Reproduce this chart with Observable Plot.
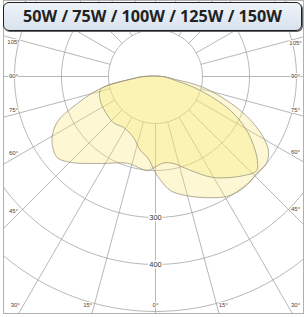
<!DOCTYPE html>
<html><head><meta charset="utf-8">
<script src="https://cdn.jsdelivr.net/npm/d3@7"></script>
<script src="https://cdn.jsdelivr.net/npm/@observablehq/plot@0.6"></script>
<style>
html,body{margin:0;padding:0;background:#fff;}
#wrap{position:relative;width:306px;height:317px;overflow:hidden;}
#chart svg{display:block;}
#title{position:absolute;left:3px;top:2px;width:299px;height:29px;box-sizing:border-box;border:1.5px solid #1e1e1e;border-radius:6px;background:linear-gradient(#eef3f9,#d9e2ee);font:bold 16.2px "Open Sans",sans-serif;color:#222;text-align:center;line-height:26px;box-shadow:1px 1px 0 #666;white-space:nowrap;}
</style></head><body>
<div id="wrap"><div id="chart"></div><div id="title"></div></div>
<script>
const titleText = "50W / 75W / 100W / 125W / 150W";
const ringValues = [100, 200, 300, 400, 500, 600];
const ringLabelValues = [300, 400];
const spokeAngles = [-165,-150,-135,-120,-105,-90,-75,-60,-45,-30,-15,0,15,30,45,60,75,90,105,120,135,150,165,180];
const edgeLabelAngles = [-105,-90,-75,-60,-45,-30,-15,0,15,30,45,60,75,90,105];

// curve A (lighter left lobe)
const curveAAngles = [-90,-84.8,-77.7,-70.9,-65.6,-61,-56.2,-50.4,-44.7,-32.3,-17.8,-4.9,0,5,11.7,20.4,29.9,41.6,47.1,50.5,54.9,60,65.6,72.7,78.7,90];
const curveAValues = [25,47,120,176,227,250,264,271,257,219,194,201,192,185,189,213,248,282,294,281,255,221,175,100,43,15];
// curve B (right lobe)
const curveBAngles = [-90,-84.8,-76.7,-66.4,-58.4,-42.4,-32.1,-19.8,-11.5,-5.6,0,2.8,7.5,14.6,25.6,32.2,39.9,46.2,51.9,56.8,60.5,64.4,69.1,77.1,81.5,90];
const curveBValues = [25,47,120,128,130,133,128,138,161,173,205,221,245,262,286,299,302,298,300,287,264,231,185,105,43,15];

document.getElementById("title").textContent = titleText;

const rad = d => d * Math.PI / 180;
const pt = (a, v) => ({x: v * Math.sin(rad(a)), y: v * Math.cos(rad(a))});
const curveA = curveAAngles.map((a, i) => pt(a, curveAValues[i]));
const curveB = curveBAngles.map((a, i) => pt(a, curveBValues[i]));
const ringPts = ringValues.flatMap(r => d3.range(0, 361, 2).map(a => ({r, ...pt(a, r)})));
const spokes = spokeAngles.map(a => { const p = pt(a, ringValues[0]), q = pt(a, 900); return {x1: p.x, y1: p.y, x2: q.x, y2: q.y}; });
const ringLabels = ringLabelValues.map(r => ({text: String(r), ...pt(0, r)}));
const edgeLabels = edgeLabelAngles.map(a => {
  const abs = Math.abs(a);
  const la = Math.sign(a) * (abs + 1.5 * Math.sign(90 - abs));
  const s = Math.sin(rad(la)), c = Math.cos(rad(la));
  const ts = [];
  if (s < -1e-9) ts.push(-302 / s);
  if (s > 1e-9) ts.push(298 / s);
  if (c > 1e-9) ts.push(487 / c);
  const t = Math.min(...ts);
  return {text: abs + "°", x: s * t, y: c * t};
});

const chart = Plot.plot({
  width: 306, height: 317,
  marginLeft: 3, marginRight: 3, marginTop: 0, marginBottom: 4,
  x: {domain: [-323.4, 314.9], range: [3, 303], axis: null},
  y: {domain: [-161.7, 504.3], range: [0, 313], axis: null},
  style: {background: "#fff", fontFamily: "Arial, 'Liberation Sans', sans-serif"},
  marks: [
    Plot.line(ringPts, {x: "x", y: "y", z: "r", stroke: "#a4a4a4", strokeWidth: 0.8, clip: true}),
    Plot.link(spokes, {x1: "x1", y1: "y1", x2: "x2", y2: "y2", stroke: "#a4a4a4", strokeWidth: 0.8, clip: true}),
    Plot.line(curveA, {x: "x", y: "y", curve: "catmull-rom-closed", fill: "#f8e96c", fillOpacity: 0.3, stroke: "none"}),
    Plot.line(curveB, {x: "x", y: "y", curve: "catmull-rom-closed", fill: "#f8e96c", fillOpacity: 0.3, stroke: "none"}),
    Plot.line(curveA, {x: "x", y: "y", curve: "catmull-rom-closed", stroke: "#8f8a74", strokeWidth: 0.7}),
    Plot.line(curveB, {x: "x", y: "y", curve: "catmull-rom-closed", stroke: "#8f8a74", strokeWidth: 0.7}),
    Plot.text(ringLabels, {x: "x", y: "y", text: "text", fontSize: 7.5, fill: "#333", stroke: "white", strokeWidth: 3}),
    Plot.text(edgeLabels, {x: "x", y: "y", text: "text", fontSize: 6, fill: "#444", stroke: "white", strokeWidth: 2}),
    Plot.frame({stroke: "#b0b0b0"})
  ]
});
document.getElementById("chart").append(chart);
</script>
</body></html>
